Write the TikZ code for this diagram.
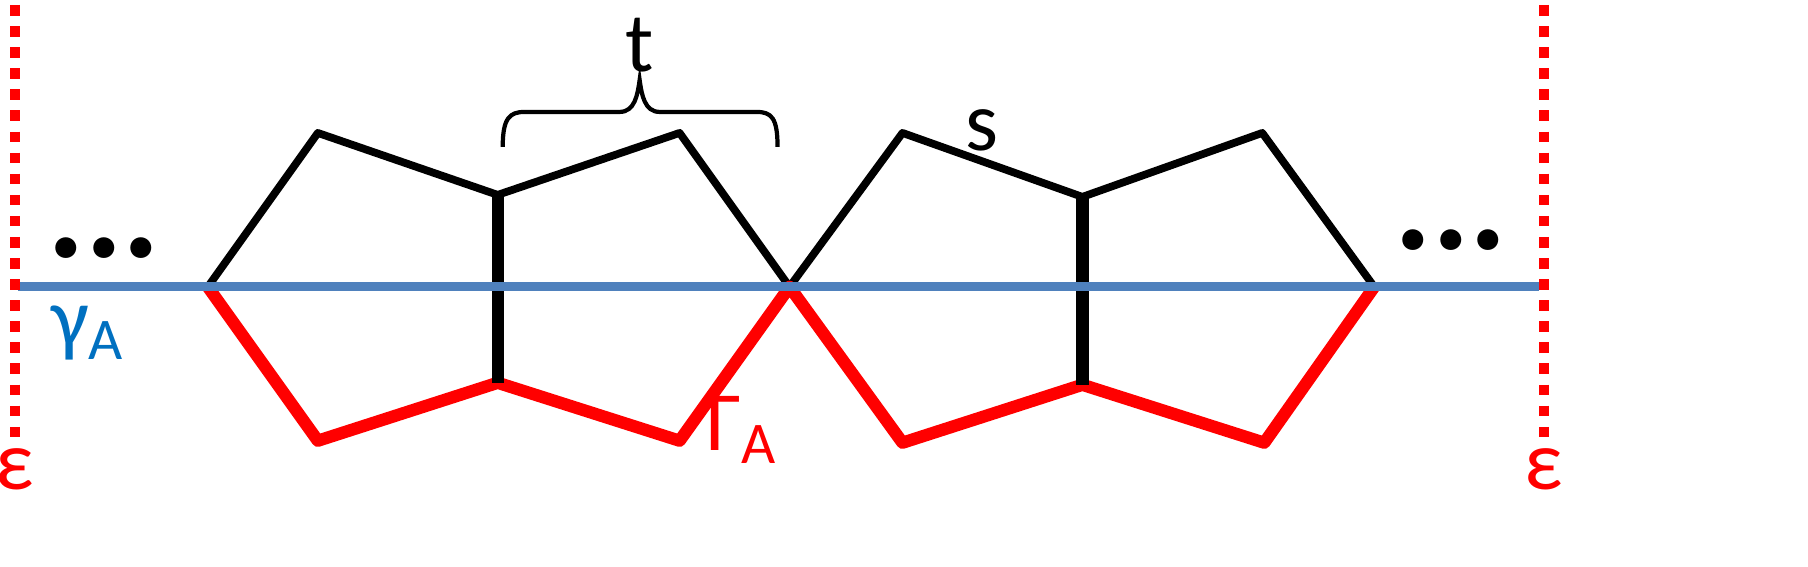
\documentclass[tikz,border=0pt]{standalone}
\usepackage{fontspec}
\setmainfont{Carlito}
\definecolor{lineblue}{RGB}{79,129,189}
\definecolor{textblue}{RGB}{0,112,192}
\tikzset{
  topedge/.style={black, line width=2.2pt, line join=round},
  botedge/.style={red, line width=3.5pt, line join=round},
  midedge/.style={black, line width=3.5pt},
  lbl/.style={font=\fontsize{24}{28}\selectfont, inner sep=0pt},
}
\begin{document}
\begin{tikzpicture}[x={(0.01cm,0cm)}, y={(0cm,-0.01cm)}]
				% vertices
				\coordinate (P1) at (208,287);
				\coordinate (T1) at (318,133);
				\coordinate (B1) at (318,441);
				\coordinate (M1t) at (498,195);
				\coordinate (M1b) at (498,383);
				\coordinate (T2) at (680,133);
				\coordinate (B2) at (680,441);
				\coordinate (P2) at (790,287);
				\coordinate (T3) at (903,133);
				\coordinate (B3) at (903,443);
				\coordinate (M2t) at (1083,197);
				\coordinate (M2b) at (1083,385);
				\coordinate (T4) at (1263,133);
				\coordinate (B4) at (1265,443);
				\coordinate (P3) at (1375,287);
				\coordinate (L) at (18,287);
				\coordinate (R) at (1540,287);
				% edges
				\draw[topedge] (P1) -- (T1) -- (M1t) -- (T2) -- (P2) -- (T3) -- (M2t) -- (T4) -- (P3);
				\draw[botedge] (P1) -- (B1) -- (M1b) -- (B2) -- (P2) -- (B3) -- (M2b) -- (B4) -- (P3);
				\draw[midedge] (M1t) -- (M1b);
				\draw[midedge] (M2t) -- (M2b);
				\draw[lineblue, line width=2.5pt] (L) -- (R);
				% borders
				\draw[red, line width=3pt, dash pattern=on 3pt off 3pt] (15,5) -- (15,445);
				\draw[red, line width=3pt, dash pattern=on 3pt off 3pt] (1545,5) -- (1545,445);
				\node[lbl, red] (epsL) at (15,470) {ε};
				\node[lbl, red] (epsR) at (1545,470) {ε};
				% brace
				\draw[black, line width=1.2pt] (503,147) .. controls (503,118) and (510,112) .. (525,112) -- (620,112)
				  .. controls (635,112) and (638,95) .. (640,80) .. controls (642,95) and (645,112) .. (660,112)
				  -- (757,112) .. controls (772,112) and (778,118) .. (778,147);
				% labels
				\node[lbl] (t) at (640,45) {t};
				\node[lbl] (s) at (983,130) {s};
				\node[lbl, textblue] (gamma) at (88,333) {γ\textsubscript{A}};
				\node[lbl, red] (Gamma) at (742,430) {Γ\textsubscript{A}};
				\node[font=\fontsize{40}{40}\selectfont\bfseries, inner sep=0pt] (dotsL) at (104,248) {...};
				\node[font=\fontsize{40}{40}\selectfont\bfseries, inner sep=0pt] (dotsR) at (1452,240) {...};
				\pgfresetboundingbox
				\useasboundingbox (0cm,0cm) rectangle (18.08cm,-5.66cm);
			\end{tikzpicture}
\end{document}
